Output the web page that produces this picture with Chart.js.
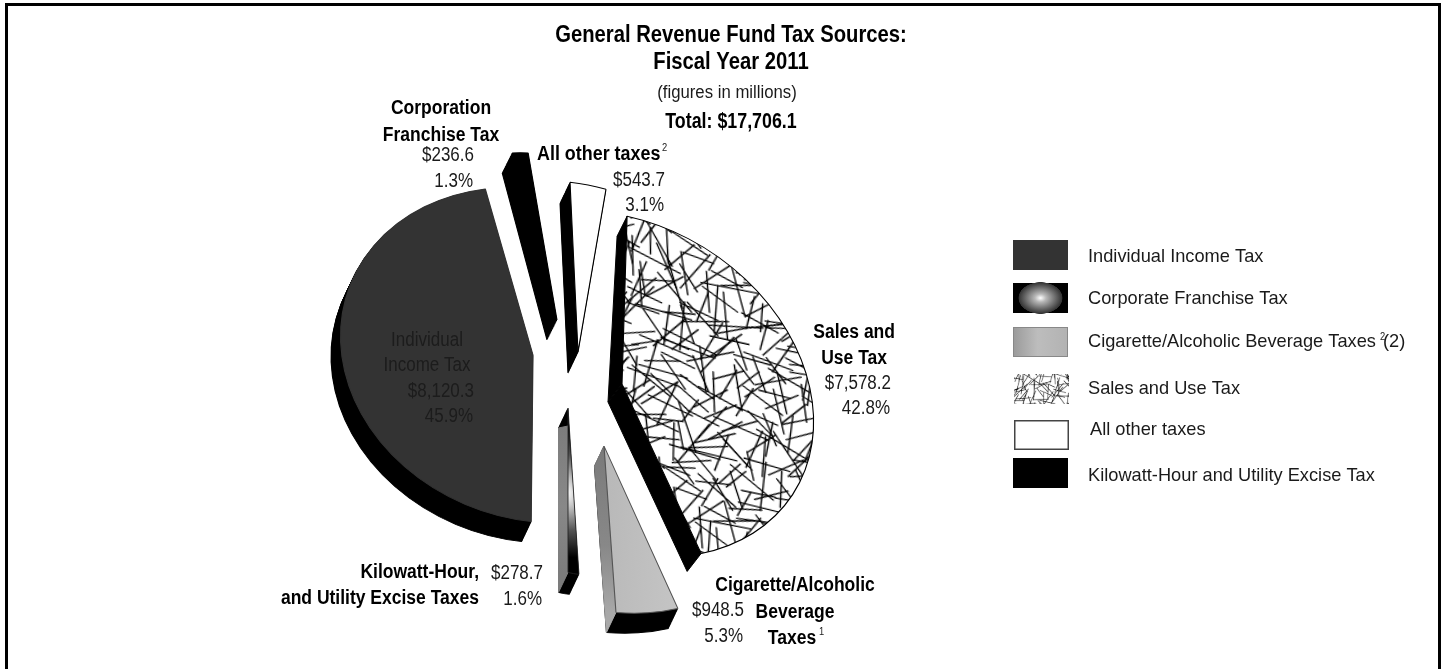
<!DOCTYPE html>
<html>
<head>
<meta charset="utf-8">
<title>General Revenue Fund Tax Sources</title>
<script src="https://cdn.jsdelivr.net/npm/chart.js@4/dist/chart.umd.min.js"></script>
<style>
  html, body { margin: 0; background: #fff; }
  #wrap { position: relative; width: 1444px; height: 669px; }
</style>
</head>
<body>
<div id="wrap"><canvas id="myChart" width="1444" height="669"></canvas></div>
<script>
const categories = ['Sales and Use Tax', 'Cigarette/Alcoholic Beverage Taxes', 'Kilowatt-Hour and Utility Excise Taxes',
  'Individual Income Tax', 'Corporation Franchise Tax', 'All other taxes'];
const values = [7578.2, 948.5, 278.7, 8120.3, 236.6, 543.7];
const shares = [42.8, 5.3, 1.6, 45.9, 1.3, 3.1];
const totalValue = 17706.1;
const legendLabels = ['Individual Income Tax', 'Corporate Franchise Tax', 'Cigarette/Alcoholic Beverage Taxes',
  'Sales and Use Tax', 'All other taxes', 'Kilowatt-Hour and Utility Excise Tax'];

const FONT = '"Liberation Sans", Arial, sans-serif';

function money(v) {
  return '$' + v.toLocaleString('en-US', { minimumFractionDigits: 1, maximumFractionDigits: 1 });
}
function pct(v) {
  return v.toFixed(1) + '%';
}

// scattered straw hatching, seeded so every page load draws the same tile
function makeStrawTile(size) {
  const tile = document.createElement('canvas');
  tile.width = tile.height = size;
  const c = tile.getContext('2d');
  c.fillStyle = '#fff';
  c.fillRect(0, 0, size, size);
  c.strokeStyle = '#000';
  c.lineWidth = 1.3;
  let seed = 4711;
  const next = () => {
    seed = (seed + 0x6D2B79F5) | 0;
    let t = Math.imul(seed ^ (seed >>> 15), 1 | seed);
    t = (t + Math.imul(t ^ (t >>> 7), 61 | t)) ^ t;
    return ((t ^ (t >>> 14)) >>> 0) / 4294967296;
  };
  const step = 14;
  for (let gy = 0; gy < size; gy += step) {
    for (let gx = 0; gx < size; gx += step) {
      const x = gx + next() * step;
      const y = gy + next() * step;
      const a = next() * Math.PI;
      const len = 26 + next() * 26;
      for (const ox of [-size, 0, size]) {
        for (const oy of [-size, 0, size]) {
          c.beginPath();
          c.moveTo(x + ox - Math.cos(a) * len / 2, y + oy - Math.sin(a) * len / 2);
          c.lineTo(x + ox + Math.cos(a) * len / 2, y + oy + Math.sin(a) * len / 2);
          c.stroke();
        }
      }
    }
  }
  return tile;
}

const strawTile = makeStrawTile(238);
const canvas = document.getElementById('myChart');
const ctx = canvas.getContext('2d');
const strawPattern = ctx.createPattern(strawTile, 'repeat');

// how far each wedge is pulled out of the pie, and the tilt of the pie seen in perspective
const wedgeShift = [[47, 9], [29, 71], [-7, 33], [-42, -20], [-18, -55], [3, -23]];
const wedgeTilt = [
  [1.13, 0.25, -0.03, 0.99],
  [1.118, 0.209, -0.059, 0.964],
  [0.654, 0.18, -0.011, 0.967],
  [1.135, 0.136, -0.03, 0.98],
  [1.139, 0.228, -0.049, 0.96],
  [1.09, 0.31, -0.165, 0.96]
];
const wedgeDepth = [[-14, 18], [-9.5, 20], [-9.5, 20], [-9.5, 20], [-10, 20], [-10, 21]];

function placeWedge(c, i, arc) {
  c.translate(arc.x + wedgeShift[i][0], arc.y + wedgeShift[i][1]);
  c.transform(wedgeTilt[i][0], wedgeTilt[i][1], wedgeTilt[i][2], wedgeTilt[i][3], 0, 0);
  c.translate(-arc.x, -arc.y);
}

function withOptions(arc, extra, fn) {
  const saved = arc.options;
  arc.options = Object.assign({}, saved, extra);
  fn();
  arc.options = saved;
}

// gradient faces need the arc's own centre, so they are built at paint time
function faceFill(c, i, arc) {
  if (i === 1) {
    const g = c.createLinearGradient(arc.x - 20, arc.y, arc.x + 70, arc.y);
    g.addColorStop(0, '#b4b4b4');
    g.addColorStop(0.55, '#bdbdbd');
    g.addColorStop(1, '#c4c4c4');
    return g;
  }
  if (i === 2) {
    const g = c.createRadialGradient(arc.x, arc.y + 87, 0, arc.x, arc.y + 87, 70);
    g.addColorStop(0, '#ffffff');
    g.addColorStop(0.2, '#c8c8c8');
    g.addColorStop(0.55, '#555555');
    g.addColorStop(0.95, '#000000');
    g.addColorStop(1, '#000000');
    return g;
  }
  return arc.options.backgroundColor;
}

// flat side of a wedge along one of its two straight edges
function drawCutSide(c, i, arc, angle, fillFor, apexInset, rimDepth) {
  c.save();
  placeWedge(c, i, arc);
  const m = c.getTransform();
  c.restore();
  const apex = m.transformPoint(new DOMPoint(arc.x, arc.y));
  const rim = m.transformPoint(new DOMPoint(
    arc.x + Math.cos(angle) * arc.outerRadius,
    arc.y + Math.sin(angle) * arc.outerRadius));
  const out = rimDepth || wedgeDepth[i];
  const style = fillFor(apex, rim);
  c.fillStyle = style;
  c.strokeStyle = style;
  c.lineWidth = 1;
  c.beginPath();
  c.moveTo(apex.x, apex.y + (apexInset || 0));
  c.lineTo(rim.x, rim.y);
  c.lineTo(rim.x + out[0], rim.y + out[1]);
  c.lineTo(apex.x + wedgeDepth[i][0], apex.y + wedgeDepth[i][1]);
  c.closePath();
  c.fill();
  c.stroke();
}

const extrudedPie = {
  id: 'extrudedPie',
  beforeDatasetsDraw(chart) {
    const c = chart.ctx;
    const arcs = chart.getDatasetMeta(0).data;

    // black body, stepped out along the depth vector; the hatched wedge has only cut sides
    arcs.forEach((arc, i) => {
      if (i === 0) return;
      withOptions(arc, { backgroundColor: '#000', borderColor: '#000', borderWidth: 1 }, () => {
        for (let s = 22; s >= 1; s--) {
          c.save();
          c.translate(wedgeDepth[i][0] * s / 22, wedgeDepth[i][1] * s / 22);
          placeWedge(c, i, arc);
          arc.draw(c);
          c.restore();
        }
      });
    });

    drawCutSide(c, 0, arcs[0], arcs[0].startAngle, () => '#000', 0, [-10, 20]);
    drawCutSide(c, 0, arcs[0], arcs[0].endAngle, () => '#000');

    // the two lower wedges show a grey cut side instead of black
    [1, 2].forEach(i => {
      drawCutSide(c, i, arcs[i], arcs[i].endAngle, (apex, rim) => {
        const g = c.createLinearGradient(0, apex.y, 0, rim.y);
        g.addColorStop(0, '#7a7a7a');
        g.addColorStop(0.6, '#888888');
        g.addColorStop(1, i === 1 ? '#a8a8a8' : '#7c7c7c');
        return g;
      }, i === 2 ? 18 : 0);
    });

    // faces on top
    arcs.forEach((arc, i) => {
      c.save();
      placeWedge(c, i, arc);
      withOptions(arc, { backgroundColor: faceFill(c, i, arc) }, () => arc.draw(c));
      c.restore();
    });
    return false;
  }
};

// the typeface is squeezed sideways to get a condensed look
function putText(c, text, x, y, align, bold, size, squeeze, color) {
  c.save();
  c.translate(x, y);
  c.scale(squeeze || (bold ? 0.875 : 0.85), 1);
  c.font = (bold ? 'bold ' : '') + (size || 20) + 'px ' + FONT;
  c.textAlign = align;
  c.textBaseline = 'middle';
  c.fillStyle = color || (bold ? '#000' : '#1a1a1a');
  c.fillText(text, 0, 0);
  c.restore();
}

const captions = {
  id: 'captions',
  afterDraw(chart) {
    const c = chart.ctx;
    c.save();

    // frame around the figure
    c.strokeStyle = '#000';
    c.lineWidth = 3;
    c.beginPath();
    c.moveTo(6.5, 669);
    c.lineTo(6.5, 4.5);
    c.lineTo(1439.5, 4.5);
    c.lineTo(1439.5, 669);
    c.stroke();

    putText(c, 'General Revenue Fund Tax Sources:', 731, 36, 'center', true, 23, 0.88);
    putText(c, 'Fiscal Year 2011', 731, 63, 'center', true, 23, 0.88);
    putText(c, '(figures in millions)', 727, 93, 'center', false, 18, 0.93);
    putText(c, 'Total: ' + money(totalValue), 731, 122, 'center', true, 22, 0.81);

    putText(c, 'Corporation', 441, 108, 'center', true);
    putText(c, 'Franchise Tax', 441, 135, 'center', true);
    putText(c, money(values[4]), 474, 155, 'right');
    putText(c, pct(shares[4]), 473, 181, 'right');

    putText(c, 'All other taxes', 537, 154, 'left', true, 20, 0.895);
    putText(c, '2', 662, 148, 'left', false, 11);
    putText(c, money(values[5]), 665, 180, 'right');
    putText(c, pct(shares[5]), 664, 205, 'right');

    const dim = '#1c1c1c';
    putText(c, 'Individual', 427, 340, 'center', false, 20, 0.85, dim);
    putText(c, 'Income Tax', 427, 365, 'center', false, 20, 0.85, dim);
    putText(c, money(values[3]), 474, 391, 'right', false, 20, 0.85, dim);
    putText(c, pct(shares[3]), 473, 416, 'right', false, 20, 0.85, dim);

    putText(c, 'Sales and', 895, 332, 'right', true);
    putText(c, 'Use Tax', 887, 358, 'right', true);
    putText(c, money(values[0]), 891, 383, 'right');
    putText(c, pct(shares[0]), 890, 408, 'right');

    putText(c, 'Kilowatt-Hour,', 479, 572, 'right', true);
    putText(c, 'and Utility Excise Taxes', 479, 598, 'right', true);
    putText(c, money(values[2]), 543, 573, 'right');
    putText(c, pct(shares[2]), 542, 599, 'right');

    putText(c, 'Cigarette/Alcoholic', 795, 585, 'center', true);
    putText(c, 'Beverage', 795, 612, 'center', true);
    putText(c, 'Taxes', 792, 638, 'center', true);
    putText(c, '1', 819, 632, 'left', false, 11);
    putText(c, money(values[1]), 744, 610, 'right');
    putText(c, pct(shares[1]), 743, 636, 'right');

    drawKey(c);
    c.restore();
  }
};

function drawKey(c) {
  const boxTop = [240, 283, 327, 374, 420, 458];
  const textMid = [257, 299, 342, 389, 430, 476];
  const boxX = 1013, boxW = 55, boxH = 30;

  legendLabels.forEach((label, i) => {
    const y = boxTop[i];
    if (i === 0) {
      c.fillStyle = '#333333';
      c.fillRect(boxX, y, boxW, boxH);
    } else if (i === 1) {
      c.fillStyle = '#000';
      c.fillRect(boxX, y, boxW, boxH);
      c.save();
      c.translate(boxX + boxW / 2, y + boxH / 2);
      c.scale(1.4, 1);
      const g = c.createRadialGradient(0, 0, 0, 0, 0, 16);
      g.addColorStop(0, '#ffffff');
      g.addColorStop(0.25, '#b8b8b8');
      g.addColorStop(0.97, '#333333');
      g.addColorStop(1, 'rgba(0,0,0,0)');
      c.fillStyle = g;
      c.fillRect(-boxW, -boxH, boxW * 2, boxH * 2);
      c.restore();
    } else if (i === 2) {
      const g = c.createLinearGradient(boxX, 0, boxX + boxW, 0);
      g.addColorStop(0, '#9a9a9a');
      g.addColorStop(0.45, '#bdbdbd');
      g.addColorStop(1, '#b2b2b2');
      c.fillStyle = g;
      c.fillRect(boxX, y, boxW, boxH);
      c.strokeStyle = '#888';
      c.lineWidth = 1;
      c.strokeRect(boxX + 0.5, y + 0.5, boxW - 1, boxH - 1);
    } else if (i === 3) {
      c.save();
      c.beginPath();
      c.rect(boxX + 1, y, boxW, boxH);
      c.clip();
      c.translate(boxX, y);
      c.scale(0.4, 0.4);
      c.imageSmoothingEnabled = true;
      c.imageSmoothingQuality = 'high';
      c.drawImage(strawTile, 0, 0);
      c.restore();
    } else if (i === 4) {
      c.fillStyle = '#fff';
      c.fillRect(boxX + 1, y, boxW, boxH);
      c.strokeStyle = '#444';
      c.lineWidth = 1.5;
      c.strokeRect(boxX + 1.75, y + 0.75, boxW - 1.5, boxH - 1.5);
    } else {
      c.fillStyle = '#000';
      c.fillRect(boxX, y, boxW, boxH);
    }
    putText(c, label, i === 4 ? 1090 : 1088, textMid[i], 'left', false, 19, 0.96);
  });
  // footnote mark sitting over the bracketed reference
  putText(c, '2', 1380, 337, 'left', false, 11);
  putText(c, '(2)', 1383, 342, 'left', false, 19, 0.96);
}

new Chart(ctx, {
  type: 'pie',
  data: {
    labels: categories,
    datasets: [{
      data: values,
      backgroundColor: [strawPattern, '#bbbbbb', '#666666', '#333333', '#000000', '#ffffff'],
      borderColor: ['#000', '#555', '#222', '#333', '#000', '#000'],
      borderWidth: 1
    }]
  },
  options: {
    responsive: false,
    animation: false,
    layout: { padding: { left: 405, right: 699, top: 205, bottom: 124 } },
    plugins: { legend: { display: false }, tooltip: { enabled: false }, title: { display: false } }
  },
  plugins: [extrudedPie, captions]
});
</script>
</body>
</html>
